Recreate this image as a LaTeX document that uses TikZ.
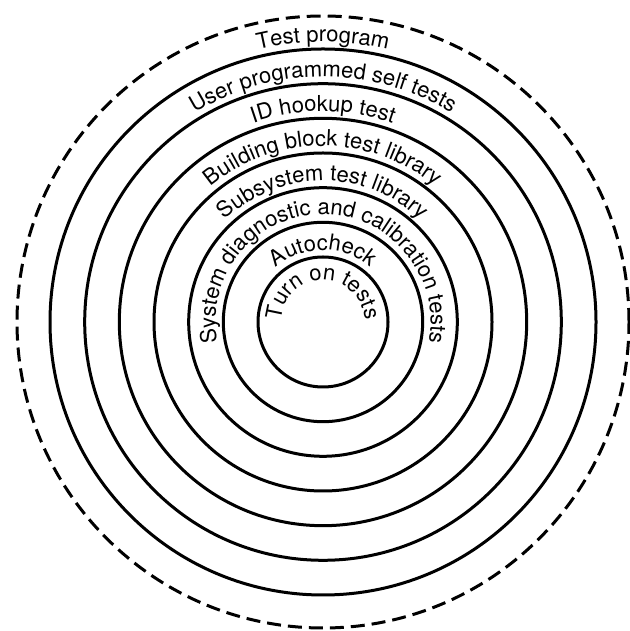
\documentclass[tikz,border=0pt]{standalone}
\usepackage{fontspec}
\setmainfont{TeX Gyre Heros}
\usepackage{tikz}
\usetikzlibrary{decorations.text}
\newcommand\ringfont{\fontsize{22}{26}\selectfont}

\begin{document}
\begin{tikzpicture}[
  x=1pt,y=1pt,
  ring/.style={draw=black,line width=3pt},
  outerring/.style={draw=black,line width=3pt,dash pattern=on 14pt off 7pt},
  arclabel/.style={decoration={text along path,text align=center,text={|\ringfont|#1}},decorate}
]
\useasboundingbox (0,0) rectangle (629,631);
\coordinate (c) at (323,309);

% rings, outermost first
\draw[outerring] (c) circle[radius=306];
\draw[ring] (c) circle[radius=273];
\draw[ring] (c) circle[radius=238.3];
\draw[ring] (c) circle[radius=203.7];
\draw[ring] (c) circle[radius=169];
\draw[ring] (c) circle[radius=134.3];
\draw[ring] (c) circle[radius=99.7];
\draw[ring] (c) circle[radius=65];

% labels along the rings
\path[arclabel={Test program}] (c) ++(260:280) arc[start angle=260,end angle=-80,radius=280];
\path[arclabel={User programmed self tests}] (c) ++(260:245.3) arc[start angle=260,end angle=-80,radius=245.3];
\path[arclabel={ID hookup test}] (c) ++(260:210.7) arc[start angle=260,end angle=-80,radius=210.7];
\path[arclabel={Building block test library}] (c) ++(260:176) arc[start angle=260,end angle=-80,radius=176];
\path[arclabel={Subsystem test library}] (c) ++(260:141.3) arc[start angle=260,end angle=-80,radius=141.3];
\path[arclabel={System diagnostic and calibration tests}] (c) ++(260:107.7) arc[start angle=260,end angle=-80,radius=107.7];
\path[arclabel={Autocheck}] (c) ++(260:72) arc[start angle=260,end angle=-80,radius=72];
\path[arclabel={Turn on tests}] (c) ++(260:42) arc[start angle=260,end angle=-80,radius=42];
\end{tikzpicture}
\end{document}
